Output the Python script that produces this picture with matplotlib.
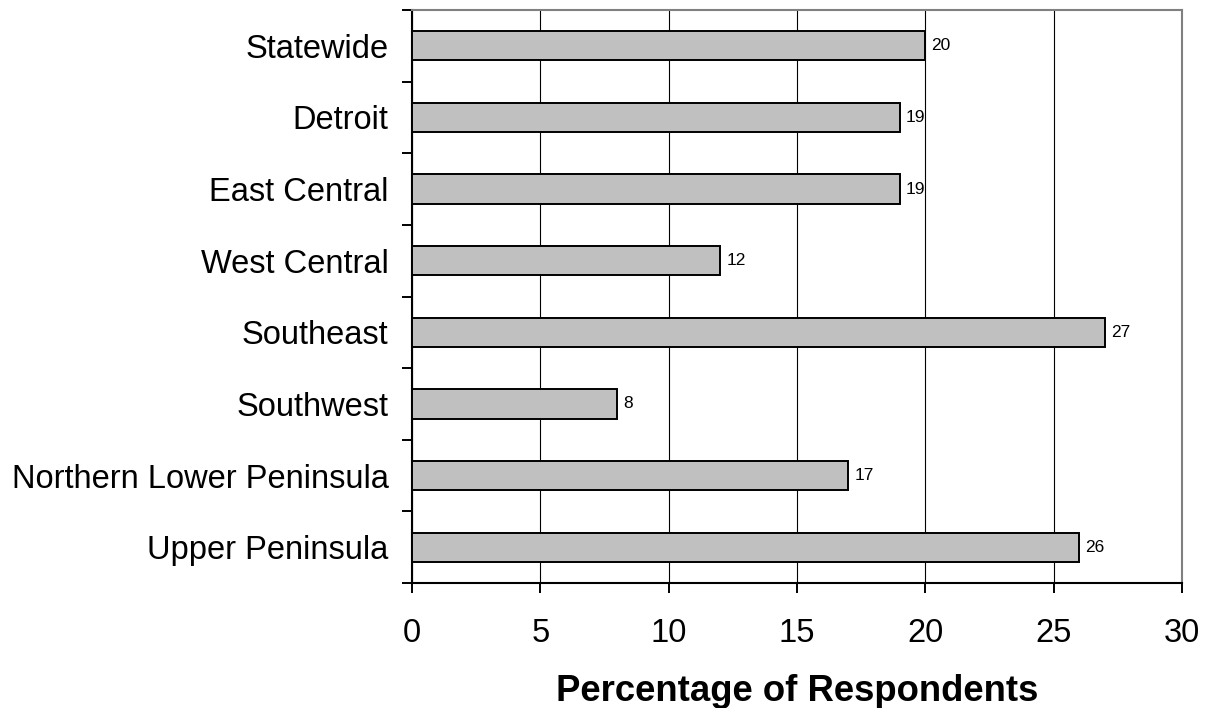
import matplotlib
matplotlib.use("Agg")
import matplotlib.pyplot as plt
import numpy as np
from matplotlib.ticker import FixedLocator

plt.rcParams['font.family'] = ['Liberation Sans', 'DejaVu Sans']

regions = ["Statewide", "Detroit", "East Central", "West Central",
           "Southeast", "Southwest", "Northern Lower Peninsula", "Upper Peninsula"]
percentages = [20, 19, 19, 12, 27, 8, 17, 26]
x_ticks = [0, 5, 10, 15, 20, 25, 30]
x_label = "Percentage of Respondents"

fig = plt.figure(figsize=(12.13, 7.08), dpi=100)
ax = fig.add_axes([412 / 1213, 1 - 583 / 708, (1182 - 412) / 1213, (583 - 10) / 708])

pos = np.arange(len(regions))
ax.barh(pos, percentages, height=0.41, color="#C0C0C0", edgecolor="black",
        linewidth=1.4, zorder=3)

for p, v in zip(pos, percentages):
    ax.annotate(str(v), xy=(v, p), xytext=(4.5, 0), textcoords="offset points",
                va="center", ha="left", fontsize=12.5, zorder=4)

ax.set_xlim(0, 30)
ax.set_ylim(len(regions) - 0.5, -0.5)

ax.set_xticks(x_ticks)
ax.set_xticklabels([str(t) for t in x_ticks])
ax.set_yticks(pos)
ax.set_yticklabels(regions)
ax.yaxis.set_minor_locator(FixedLocator(np.arange(-0.5, len(regions), 1.0)))

ax.tick_params(axis="x", which="major", direction="out", length=7.2, width=1.4,
               labelsize=23.5, pad=18)
ax.tick_params(axis="y", which="major", length=0, labelsize=23.5, pad=17)
ax.tick_params(axis="y", which="minor", direction="out", length=7.2, width=1.4)

ax.xaxis.grid(True, color="black", linewidth=0.8, zorder=1)
ax.set_axisbelow(True)

for side in ("left", "bottom"):
    ax.spines[side].set_color("black")
    ax.spines[side].set_linewidth(1.5)
for side in ("top", "right"):
    ax.spines[side].set_color("#808080")
    ax.spines[side].set_linewidth(1.5)

fig.text((412 + 1182) / 2 / 1213, 7 / 708, x_label, ha="center", va="baseline",
         fontsize=26.3, fontweight="bold")

fig.savefig("out.png", dpi=100)
